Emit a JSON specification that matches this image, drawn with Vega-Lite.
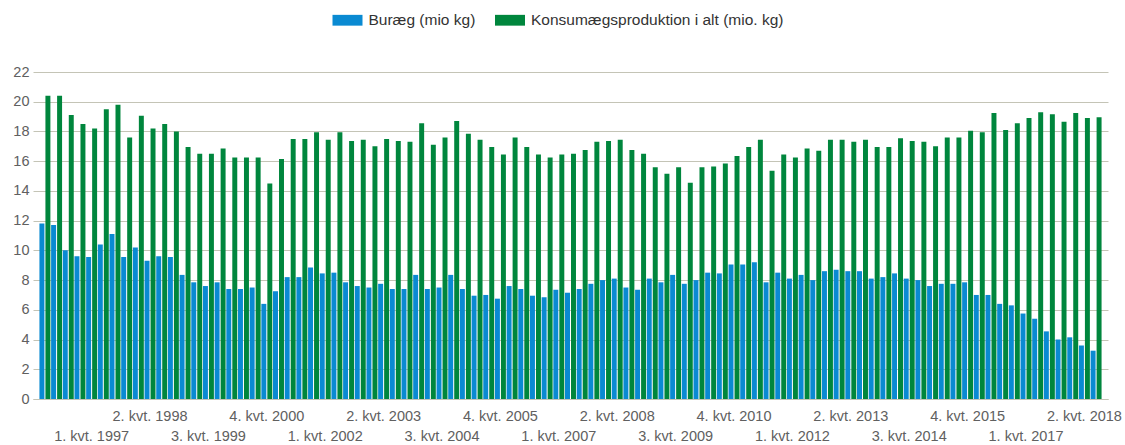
{
  "$schema": "https://vega.github.io/schema/vega-lite/v6.json",
  "width": 1075,
  "height": 327,
  "autosize": {"type": "none"},
  "padding": {"left": 33, "top": 72, "right": 17, "bottom": 46},
  "background": "white",
  "config": {"view": {"stroke": null}, "font": "Liberation Sans"},
  "datasets": {
    "rows": [
      {"kvartal":"1. kvt. 1996","serie":"Buræg (mio kg)","mio_kg":11.8},{"kvartal":"1. kvt. 1996","serie":"Konsumægsproduktion i alt (mio. kg)","mio_kg":20.4},
      {"kvartal":"2. kvt. 1996","serie":"Buræg (mio kg)","mio_kg":11.7},{"kvartal":"2. kvt. 1996","serie":"Konsumægsproduktion i alt (mio. kg)","mio_kg":20.4},
      {"kvartal":"3. kvt. 1996","serie":"Buræg (mio kg)","mio_kg":10.0},{"kvartal":"3. kvt. 1996","serie":"Konsumægsproduktion i alt (mio. kg)","mio_kg":19.1},
      {"kvartal":"4. kvt. 1996","serie":"Buræg (mio kg)","mio_kg":9.6},{"kvartal":"4. kvt. 1996","serie":"Konsumægsproduktion i alt (mio. kg)","mio_kg":18.5},
      {"kvartal":"1. kvt. 1997","serie":"Buræg (mio kg)","mio_kg":9.55},{"kvartal":"1. kvt. 1997","serie":"Konsumægsproduktion i alt (mio. kg)","mio_kg":18.2},
      {"kvartal":"2. kvt. 1997","serie":"Buræg (mio kg)","mio_kg":10.4},{"kvartal":"2. kvt. 1997","serie":"Konsumægsproduktion i alt (mio. kg)","mio_kg":19.5},
      {"kvartal":"3. kvt. 1997","serie":"Buræg (mio kg)","mio_kg":11.1},{"kvartal":"3. kvt. 1997","serie":"Konsumægsproduktion i alt (mio. kg)","mio_kg":19.8},
      {"kvartal":"4. kvt. 1997","serie":"Buræg (mio kg)","mio_kg":9.55},{"kvartal":"4. kvt. 1997","serie":"Konsumægsproduktion i alt (mio. kg)","mio_kg":17.6},
      {"kvartal":"1. kvt. 1998","serie":"Buræg (mio kg)","mio_kg":10.2},{"kvartal":"1. kvt. 1998","serie":"Konsumægsproduktion i alt (mio. kg)","mio_kg":19.05},
      {"kvartal":"2. kvt. 1998","serie":"Buræg (mio kg)","mio_kg":9.3},{"kvartal":"2. kvt. 1998","serie":"Konsumægsproduktion i alt (mio. kg)","mio_kg":18.2},
      {"kvartal":"3. kvt. 1998","serie":"Buræg (mio kg)","mio_kg":9.6},{"kvartal":"3. kvt. 1998","serie":"Konsumægsproduktion i alt (mio. kg)","mio_kg":18.5},
      {"kvartal":"4. kvt. 1998","serie":"Buræg (mio kg)","mio_kg":9.55},{"kvartal":"4. kvt. 1998","serie":"Konsumægsproduktion i alt (mio. kg)","mio_kg":18.0},
      {"kvartal":"1. kvt. 1999","serie":"Buræg (mio kg)","mio_kg":8.35},{"kvartal":"1. kvt. 1999","serie":"Konsumægsproduktion i alt (mio. kg)","mio_kg":16.95},
      {"kvartal":"2. kvt. 1999","serie":"Buræg (mio kg)","mio_kg":7.85},{"kvartal":"2. kvt. 1999","serie":"Konsumægsproduktion i alt (mio. kg)","mio_kg":16.5},
      {"kvartal":"3. kvt. 1999","serie":"Buræg (mio kg)","mio_kg":7.6},{"kvartal":"3. kvt. 1999","serie":"Konsumægsproduktion i alt (mio. kg)","mio_kg":16.5},
      {"kvartal":"4. kvt. 1999","serie":"Buræg (mio kg)","mio_kg":7.85},{"kvartal":"4. kvt. 1999","serie":"Konsumægsproduktion i alt (mio. kg)","mio_kg":16.85},
      {"kvartal":"1. kvt. 2000","serie":"Buræg (mio kg)","mio_kg":7.4},{"kvartal":"1. kvt. 2000","serie":"Konsumægsproduktion i alt (mio. kg)","mio_kg":16.25},
      {"kvartal":"2. kvt. 2000","serie":"Buræg (mio kg)","mio_kg":7.4},{"kvartal":"2. kvt. 2000","serie":"Konsumægsproduktion i alt (mio. kg)","mio_kg":16.25},
      {"kvartal":"3. kvt. 2000","serie":"Buræg (mio kg)","mio_kg":7.5},{"kvartal":"3. kvt. 2000","serie":"Konsumægsproduktion i alt (mio. kg)","mio_kg":16.25},
      {"kvartal":"4. kvt. 2000","serie":"Buræg (mio kg)","mio_kg":6.4},{"kvartal":"4. kvt. 2000","serie":"Konsumægsproduktion i alt (mio. kg)","mio_kg":14.5},
      {"kvartal":"1. kvt. 2001","serie":"Buræg (mio kg)","mio_kg":7.25},{"kvartal":"1. kvt. 2001","serie":"Konsumægsproduktion i alt (mio. kg)","mio_kg":16.15},
      {"kvartal":"2. kvt. 2001","serie":"Buræg (mio kg)","mio_kg":8.2},{"kvartal":"2. kvt. 2001","serie":"Konsumægsproduktion i alt (mio. kg)","mio_kg":17.5},
      {"kvartal":"3. kvt. 2001","serie":"Buræg (mio kg)","mio_kg":8.2},{"kvartal":"3. kvt. 2001","serie":"Konsumægsproduktion i alt (mio. kg)","mio_kg":17.5},
      {"kvartal":"4. kvt. 2001","serie":"Buræg (mio kg)","mio_kg":8.85},{"kvartal":"4. kvt. 2001","serie":"Konsumægsproduktion i alt (mio. kg)","mio_kg":17.95},
      {"kvartal":"1. kvt. 2002","serie":"Buræg (mio kg)","mio_kg":8.45},{"kvartal":"1. kvt. 2002","serie":"Konsumægsproduktion i alt (mio. kg)","mio_kg":17.45},
      {"kvartal":"2. kvt. 2002","serie":"Buræg (mio kg)","mio_kg":8.5},{"kvartal":"2. kvt. 2002","serie":"Konsumægsproduktion i alt (mio. kg)","mio_kg":17.95},
      {"kvartal":"3. kvt. 2002","serie":"Buræg (mio kg)","mio_kg":7.85},{"kvartal":"3. kvt. 2002","serie":"Konsumægsproduktion i alt (mio. kg)","mio_kg":17.35},
      {"kvartal":"4. kvt. 2002","serie":"Buræg (mio kg)","mio_kg":7.6},{"kvartal":"4. kvt. 2002","serie":"Konsumægsproduktion i alt (mio. kg)","mio_kg":17.45},
      {"kvartal":"1. kvt. 2003","serie":"Buræg (mio kg)","mio_kg":7.5},{"kvartal":"1. kvt. 2003","serie":"Konsumægsproduktion i alt (mio. kg)","mio_kg":17.0},
      {"kvartal":"2. kvt. 2003","serie":"Buræg (mio kg)","mio_kg":7.75},{"kvartal":"2. kvt. 2003","serie":"Konsumægsproduktion i alt (mio. kg)","mio_kg":17.5},
      {"kvartal":"3. kvt. 2003","serie":"Buræg (mio kg)","mio_kg":7.4},{"kvartal":"3. kvt. 2003","serie":"Konsumægsproduktion i alt (mio. kg)","mio_kg":17.35},
      {"kvartal":"4. kvt. 2003","serie":"Buræg (mio kg)","mio_kg":7.4},{"kvartal":"4. kvt. 2003","serie":"Konsumægsproduktion i alt (mio. kg)","mio_kg":17.3},
      {"kvartal":"1. kvt. 2004","serie":"Buræg (mio kg)","mio_kg":8.35},{"kvartal":"1. kvt. 2004","serie":"Konsumægsproduktion i alt (mio. kg)","mio_kg":18.55},
      {"kvartal":"2. kvt. 2004","serie":"Buræg (mio kg)","mio_kg":7.4},{"kvartal":"2. kvt. 2004","serie":"Konsumægsproduktion i alt (mio. kg)","mio_kg":17.1},
      {"kvartal":"3. kvt. 2004","serie":"Buræg (mio kg)","mio_kg":7.5},{"kvartal":"3. kvt. 2004","serie":"Konsumægsproduktion i alt (mio. kg)","mio_kg":17.6},
      {"kvartal":"4. kvt. 2004","serie":"Buræg (mio kg)","mio_kg":8.35},{"kvartal":"4. kvt. 2004","serie":"Konsumægsproduktion i alt (mio. kg)","mio_kg":18.7},
      {"kvartal":"1. kvt. 2005","serie":"Buræg (mio kg)","mio_kg":7.4},{"kvartal":"1. kvt. 2005","serie":"Konsumægsproduktion i alt (mio. kg)","mio_kg":17.85},
      {"kvartal":"2. kvt. 2005","serie":"Buræg (mio kg)","mio_kg":6.95},{"kvartal":"2. kvt. 2005","serie":"Konsumægsproduktion i alt (mio. kg)","mio_kg":17.45},
      {"kvartal":"3. kvt. 2005","serie":"Buræg (mio kg)","mio_kg":7.0},{"kvartal":"3. kvt. 2005","serie":"Konsumægsproduktion i alt (mio. kg)","mio_kg":16.95},
      {"kvartal":"4. kvt. 2005","serie":"Buræg (mio kg)","mio_kg":6.75},{"kvartal":"4. kvt. 2005","serie":"Konsumægsproduktion i alt (mio. kg)","mio_kg":16.45},
      {"kvartal":"1. kvt. 2006","serie":"Buræg (mio kg)","mio_kg":7.6},{"kvartal":"1. kvt. 2006","serie":"Konsumægsproduktion i alt (mio. kg)","mio_kg":17.6},
      {"kvartal":"2. kvt. 2006","serie":"Buræg (mio kg)","mio_kg":7.4},{"kvartal":"2. kvt. 2006","serie":"Konsumægsproduktion i alt (mio. kg)","mio_kg":16.95},
      {"kvartal":"3. kvt. 2006","serie":"Buræg (mio kg)","mio_kg":6.95},{"kvartal":"3. kvt. 2006","serie":"Konsumægsproduktion i alt (mio. kg)","mio_kg":16.45},
      {"kvartal":"4. kvt. 2006","serie":"Buræg (mio kg)","mio_kg":6.85},{"kvartal":"4. kvt. 2006","serie":"Konsumægsproduktion i alt (mio. kg)","mio_kg":16.25},
      {"kvartal":"1. kvt. 2007","serie":"Buræg (mio kg)","mio_kg":7.35},{"kvartal":"1. kvt. 2007","serie":"Konsumægsproduktion i alt (mio. kg)","mio_kg":16.45},
      {"kvartal":"2. kvt. 2007","serie":"Buræg (mio kg)","mio_kg":7.15},{"kvartal":"2. kvt. 2007","serie":"Konsumægsproduktion i alt (mio. kg)","mio_kg":16.5},
      {"kvartal":"3. kvt. 2007","serie":"Buræg (mio kg)","mio_kg":7.4},{"kvartal":"3. kvt. 2007","serie":"Konsumægsproduktion i alt (mio. kg)","mio_kg":16.75},
      {"kvartal":"4. kvt. 2007","serie":"Buræg (mio kg)","mio_kg":7.75},{"kvartal":"4. kvt. 2007","serie":"Konsumægsproduktion i alt (mio. kg)","mio_kg":17.3},
      {"kvartal":"1. kvt. 2008","serie":"Buræg (mio kg)","mio_kg":8.0},{"kvartal":"1. kvt. 2008","serie":"Konsumægsproduktion i alt (mio. kg)","mio_kg":17.35},
      {"kvartal":"2. kvt. 2008","serie":"Buræg (mio kg)","mio_kg":8.1},{"kvartal":"2. kvt. 2008","serie":"Konsumægsproduktion i alt (mio. kg)","mio_kg":17.45},
      {"kvartal":"3. kvt. 2008","serie":"Buræg (mio kg)","mio_kg":7.5},{"kvartal":"3. kvt. 2008","serie":"Konsumægsproduktion i alt (mio. kg)","mio_kg":16.75},
      {"kvartal":"4. kvt. 2008","serie":"Buræg (mio kg)","mio_kg":7.35},{"kvartal":"4. kvt. 2008","serie":"Konsumægsproduktion i alt (mio. kg)","mio_kg":16.5},
      {"kvartal":"1. kvt. 2009","serie":"Buræg (mio kg)","mio_kg":8.1},{"kvartal":"1. kvt. 2009","serie":"Konsumægsproduktion i alt (mio. kg)","mio_kg":15.6},
      {"kvartal":"2. kvt. 2009","serie":"Buræg (mio kg)","mio_kg":7.85},{"kvartal":"2. kvt. 2009","serie":"Konsumægsproduktion i alt (mio. kg)","mio_kg":15.15},
      {"kvartal":"3. kvt. 2009","serie":"Buræg (mio kg)","mio_kg":8.35},{"kvartal":"3. kvt. 2009","serie":"Konsumægsproduktion i alt (mio. kg)","mio_kg":15.6},
      {"kvartal":"4. kvt. 2009","serie":"Buræg (mio kg)","mio_kg":7.75},{"kvartal":"4. kvt. 2009","serie":"Konsumægsproduktion i alt (mio. kg)","mio_kg":14.55},
      {"kvartal":"1. kvt. 2010","serie":"Buræg (mio kg)","mio_kg":8.0},{"kvartal":"1. kvt. 2010","serie":"Konsumægsproduktion i alt (mio. kg)","mio_kg":15.6},
      {"kvartal":"2. kvt. 2010","serie":"Buræg (mio kg)","mio_kg":8.5},{"kvartal":"2. kvt. 2010","serie":"Konsumægsproduktion i alt (mio. kg)","mio_kg":15.65},
      {"kvartal":"3. kvt. 2010","serie":"Buræg (mio kg)","mio_kg":8.45},{"kvartal":"3. kvt. 2010","serie":"Konsumægsproduktion i alt (mio. kg)","mio_kg":15.85},
      {"kvartal":"4. kvt. 2010","serie":"Buræg (mio kg)","mio_kg":9.05},{"kvartal":"4. kvt. 2010","serie":"Konsumægsproduktion i alt (mio. kg)","mio_kg":16.35},
      {"kvartal":"1. kvt. 2011","serie":"Buræg (mio kg)","mio_kg":9.05},{"kvartal":"1. kvt. 2011","serie":"Konsumægsproduktion i alt (mio. kg)","mio_kg":16.95},
      {"kvartal":"2. kvt. 2011","serie":"Buræg (mio kg)","mio_kg":9.2},{"kvartal":"2. kvt. 2011","serie":"Konsumægsproduktion i alt (mio. kg)","mio_kg":17.45},
      {"kvartal":"3. kvt. 2011","serie":"Buræg (mio kg)","mio_kg":7.85},{"kvartal":"3. kvt. 2011","serie":"Konsumægsproduktion i alt (mio. kg)","mio_kg":15.35},
      {"kvartal":"4. kvt. 2011","serie":"Buræg (mio kg)","mio_kg":8.5},{"kvartal":"4. kvt. 2011","serie":"Konsumægsproduktion i alt (mio. kg)","mio_kg":16.45},
      {"kvartal":"1. kvt. 2012","serie":"Buræg (mio kg)","mio_kg":8.1},{"kvartal":"1. kvt. 2012","serie":"Konsumægsproduktion i alt (mio. kg)","mio_kg":16.25},
      {"kvartal":"2. kvt. 2012","serie":"Buræg (mio kg)","mio_kg":8.35},{"kvartal":"2. kvt. 2012","serie":"Konsumægsproduktion i alt (mio. kg)","mio_kg":16.85},
      {"kvartal":"3. kvt. 2012","serie":"Buræg (mio kg)","mio_kg":8.0},{"kvartal":"3. kvt. 2012","serie":"Konsumægsproduktion i alt (mio. kg)","mio_kg":16.7},
      {"kvartal":"4. kvt. 2012","serie":"Buræg (mio kg)","mio_kg":8.6},{"kvartal":"4. kvt. 2012","serie":"Konsumægsproduktion i alt (mio. kg)","mio_kg":17.45},
      {"kvartal":"1. kvt. 2013","serie":"Buræg (mio kg)","mio_kg":8.7},{"kvartal":"1. kvt. 2013","serie":"Konsumægsproduktion i alt (mio. kg)","mio_kg":17.45},
      {"kvartal":"2. kvt. 2013","serie":"Buræg (mio kg)","mio_kg":8.6},{"kvartal":"2. kvt. 2013","serie":"Konsumægsproduktion i alt (mio. kg)","mio_kg":17.3},
      {"kvartal":"3. kvt. 2013","serie":"Buræg (mio kg)","mio_kg":8.6},{"kvartal":"3. kvt. 2013","serie":"Konsumægsproduktion i alt (mio. kg)","mio_kg":17.45},
      {"kvartal":"4. kvt. 2013","serie":"Buræg (mio kg)","mio_kg":8.1},{"kvartal":"4. kvt. 2013","serie":"Konsumægsproduktion i alt (mio. kg)","mio_kg":16.95},
      {"kvartal":"1. kvt. 2014","serie":"Buræg (mio kg)","mio_kg":8.2},{"kvartal":"1. kvt. 2014","serie":"Konsumægsproduktion i alt (mio. kg)","mio_kg":16.95},
      {"kvartal":"2. kvt. 2014","serie":"Buræg (mio kg)","mio_kg":8.45},{"kvartal":"2. kvt. 2014","serie":"Konsumægsproduktion i alt (mio. kg)","mio_kg":17.55},
      {"kvartal":"3. kvt. 2014","serie":"Buræg (mio kg)","mio_kg":8.1},{"kvartal":"3. kvt. 2014","serie":"Konsumægsproduktion i alt (mio. kg)","mio_kg":17.35},
      {"kvartal":"4. kvt. 2014","serie":"Buræg (mio kg)","mio_kg":8.0},{"kvartal":"4. kvt. 2014","serie":"Konsumægsproduktion i alt (mio. kg)","mio_kg":17.3},
      {"kvartal":"1. kvt. 2015","serie":"Buræg (mio kg)","mio_kg":7.6},{"kvartal":"1. kvt. 2015","serie":"Konsumægsproduktion i alt (mio. kg)","mio_kg":17.0},
      {"kvartal":"2. kvt. 2015","serie":"Buræg (mio kg)","mio_kg":7.75},{"kvartal":"2. kvt. 2015","serie":"Konsumægsproduktion i alt (mio. kg)","mio_kg":17.6},
      {"kvartal":"3. kvt. 2015","serie":"Buræg (mio kg)","mio_kg":7.75},{"kvartal":"3. kvt. 2015","serie":"Konsumægsproduktion i alt (mio. kg)","mio_kg":17.6},
      {"kvartal":"4. kvt. 2015","serie":"Buræg (mio kg)","mio_kg":7.85},{"kvartal":"4. kvt. 2015","serie":"Konsumægsproduktion i alt (mio. kg)","mio_kg":18.05},
      {"kvartal":"1. kvt. 2016","serie":"Buræg (mio kg)","mio_kg":7.0},{"kvartal":"1. kvt. 2016","serie":"Konsumægsproduktion i alt (mio. kg)","mio_kg":17.95},
      {"kvartal":"2. kvt. 2016","serie":"Buræg (mio kg)","mio_kg":7.0},{"kvartal":"2. kvt. 2016","serie":"Konsumægsproduktion i alt (mio. kg)","mio_kg":19.25},
      {"kvartal":"3. kvt. 2016","serie":"Buræg (mio kg)","mio_kg":6.4},{"kvartal":"3. kvt. 2016","serie":"Konsumægsproduktion i alt (mio. kg)","mio_kg":18.1},
      {"kvartal":"4. kvt. 2016","serie":"Buræg (mio kg)","mio_kg":6.3},{"kvartal":"4. kvt. 2016","serie":"Konsumægsproduktion i alt (mio. kg)","mio_kg":18.55},
      {"kvartal":"1. kvt. 2017","serie":"Buræg (mio kg)","mio_kg":5.75},{"kvartal":"1. kvt. 2017","serie":"Konsumægsproduktion i alt (mio. kg)","mio_kg":18.9},
      {"kvartal":"2. kvt. 2017","serie":"Buræg (mio kg)","mio_kg":5.4},{"kvartal":"2. kvt. 2017","serie":"Konsumægsproduktion i alt (mio. kg)","mio_kg":19.3},
      {"kvartal":"3. kvt. 2017","serie":"Buræg (mio kg)","mio_kg":4.55},{"kvartal":"3. kvt. 2017","serie":"Konsumægsproduktion i alt (mio. kg)","mio_kg":19.15},
      {"kvartal":"4. kvt. 2017","serie":"Buræg (mio kg)","mio_kg":4.0},{"kvartal":"4. kvt. 2017","serie":"Konsumægsproduktion i alt (mio. kg)","mio_kg":18.65},
      {"kvartal":"1. kvt. 2018","serie":"Buræg (mio kg)","mio_kg":4.15},{"kvartal":"1. kvt. 2018","serie":"Konsumægsproduktion i alt (mio. kg)","mio_kg":19.25},
      {"kvartal":"2. kvt. 2018","serie":"Buræg (mio kg)","mio_kg":3.6},{"kvartal":"2. kvt. 2018","serie":"Konsumægsproduktion i alt (mio. kg)","mio_kg":18.9},
      {"kvartal":"3. kvt. 2018","serie":"Buræg (mio kg)","mio_kg":3.25},{"kvartal":"3. kvt. 2018","serie":"Konsumægsproduktion i alt (mio. kg)","mio_kg":18.95}
    ]
  },
  "data": {"name": "rows"},
  "mark": {"type": "bar"},
  "encoding": {
    "x": {
      "field": "kvartal",
      "type": "nominal",
      "sort": null,
      "scale": {"paddingInner": 0, "paddingOuter": 0.52},
      "axis": {
        "title": null,
        "ticks": false,
        "grid": false,
        "domainColor": "#c4c4b6",
        "domainWidth": 1,
        "labelAngle": 0,
        "labelOverlap": false,
        "labelBound": false,
        "labelFlush": false,
        "labelBaseline": "top",
        "labelAlign": "center",
        "labelPadding": 10,
        "labelLineHeight": 20.5,
        "labelFontSize": 14.5,
        "labelColor": "#606060",
        "labelExpr": "((toNumber(substring(datum.label,8))-1996)*4+toNumber(substring(datum.label,0,1))-5)%5!=0 ? '' : ((((toNumber(substring(datum.label,8))-1996)*4+toNumber(substring(datum.label,0,1))-5)/5)%2==1 ? datum.label : ['', datum.label])"
      }
    },
    "xOffset": {
      "field": "serie",
      "type": "nominal",
      "sort": null,
      "scale": {"paddingInner": 0.17, "paddingOuter": 0.06}
    },
    "y": {
      "field": "mio_kg",
      "type": "quantitative",
      "scale": {"domain": [0, 22], "nice": false},
      "axis": {
        "title": null,
        "values": [0, 2, 4, 6, 8, 10, 12, 14, 16, 18, 20, 22],
        "domain": false,
        "ticks": false,
        "tickSize": 0,
        "labelPadding": 4,
        "labelFontSize": 14.5,
        "labelColor": "#606060",
        "gridColor": "#c4c4b6",
        "gridWidth": 1,
        "gridOpacity": 1
      }
    },
    "color": {
      "field": "serie",
      "type": "nominal",
      "sort": null,
      "scale": {
        "domain": ["Buræg (mio kg)", "Konsumægsproduktion i alt (mio. kg)"],
        "range": ["#0a8ad2", "#00863d"]
      },
      "legend": {
        "title": null,
        "orient": "none",
        "direction": "horizontal",
        "legendX": 299.5,
        "legendY": -67,
        "padding": 0,
        "symbolType": "M-1,-0.36H1V0.36H-1Z",
        "symbolSize": 900,
        "symbolStrokeWidth": 0,
        "symbolOpacity": 1,
        "labelFontSize": 15.5,
        "labelColor": "#333333",
        "labelOffset": 6,
        "labelLimit": 400,
        "columnPadding": 19.5
      }
    }
  }
}
